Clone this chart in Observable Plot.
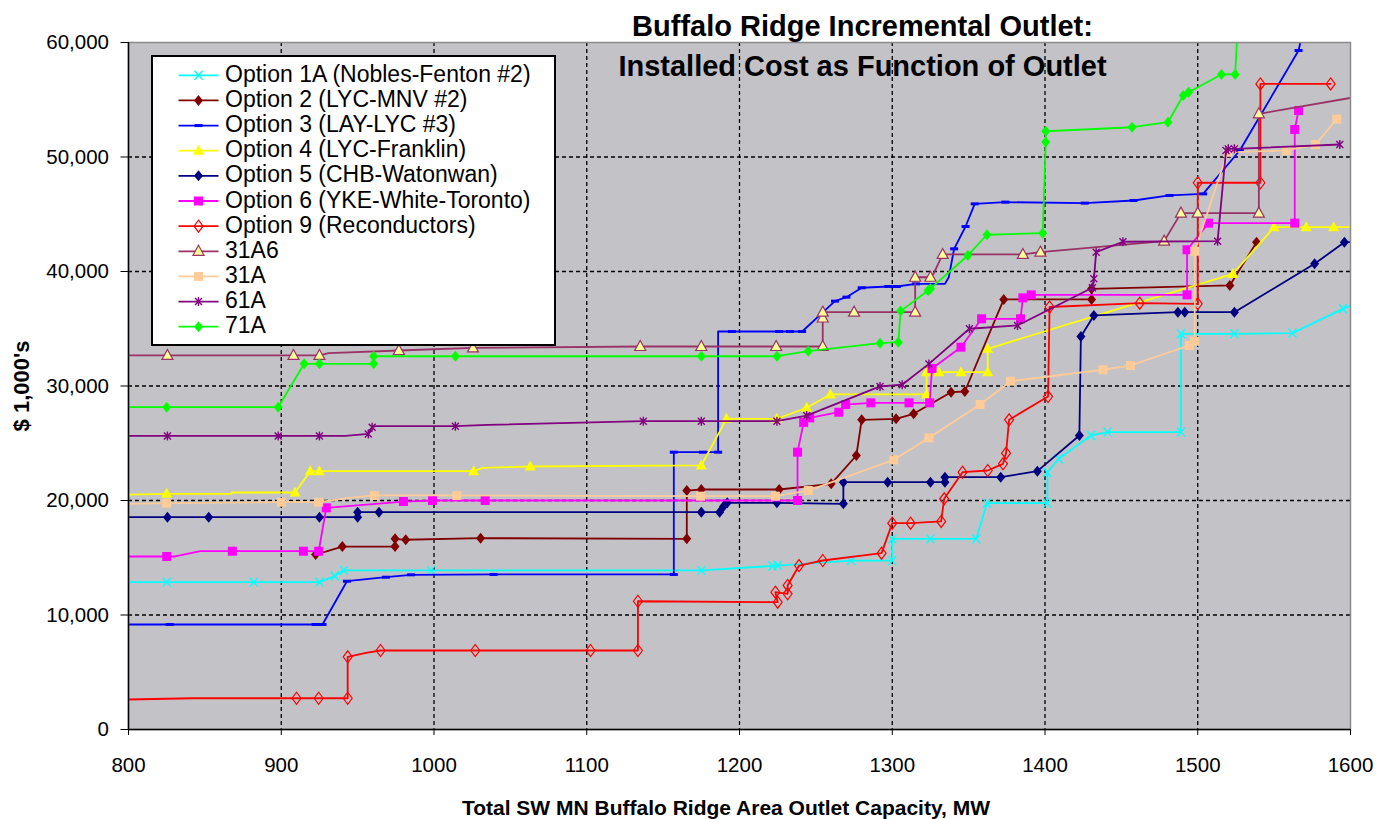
<!DOCTYPE html>
<html><head><meta charset="utf-8">
<script src="https://cdn.jsdelivr.net/npm/d3@7"></script>
<script src="https://cdn.jsdelivr.net/npm/@observablehq/plot@0.6"></script>
<style>
html,body{margin:0;padding:0;background:#fff;}
#chart{width:1388px;height:819px;}
</style></head>
<body><div id="chart"></div>
<script>
// ---------- axis ticks ----------
const xTicks = [800, 900, 1000, 1100, 1200, 1300, 1400, 1500, 1600];
const yTicks = [0, 10000, 20000, 30000, 40000, 50000, 60000];

// ---------- series names ----------
const seriesNames = [
  "Option 1A (Nobles-Fenton #2)",
  "Option 2 (LYC-MNV #2)",
  "Option 3 (LAY-LYC #3)",
  "Option 4 (LYC-Franklin)",
  "Option 5 (CHB-Watonwan)",
  "Option 6 (YKE-White-Toronto)",
  "Option 9 (Reconductors)",
  "31A6",
  "31A",
  "61A",
  "71A"
];

// ---------- series values [MW, $1,000's] (path vertices) ----------
const opt1A = [[800,12870],[825,12870],[882,12870],[925,12870],[935,13400],[941,13900],[998,13900],[1175,13900],[1221.5,14280],[1225,14320],[1273,14750],[1300,14750],[1300,16650],[1325,16650],[1355,16650],[1362,19770],[1401.5,19770],[1401.5,22470],[1409,23640],[1430,25680],[1441,25970],[1489,25970],[1489,34560],[1524,34560],[1562,34620],[1595,36740],[1600,37000]];
const opt1ABends = [[800,12870],[1600,37000]];

const opt2 = [[922.5,15280],[940,15980],[974.5,15980],[974.5,16650],[981.5,16570],[1030.5,16710],[1165.5,16650],[1165.5,20870],[1175,20960],[1226,20960],[1260,21460],[1276.5,23930],[1280,27050],[1302.5,27130],[1314,27570],[1338.5,29460],[1347.5,29520],[1373,37560],[1430.5,37560],[1430.5,38490],[1521,38780],[1538.5,42560]];
const opt2Bends = [];

const opt3 = [[800,9170],[827,9170],[922.5,9170],[927,9170],[943,12950],[968.5,13300],[985,13510],[1039,13540],[1157,13540],[1157,24220],[1176,24220],[1186,24220],[1186,34760],[1195,34760],[1226,34760],[1233,34760],[1241,34760],[1254,36360],[1262.5,37410],[1270,37760],[1280,38580],[1297.5,38690],[1303,38690],[1315.5,38920],[1334.5,38920],[1337,39500],[1340.5,41980],[1348,43930],[1354,45910],[1374,46060],[1426,45970],[1458,46200],[1481.5,46640],[1503.5,46780],[1527.5,50570],[1566,59300],[1568,60500]];
const opt3Bends = [[800,9170],[1186,34760],[1254,36360],[1334.5,38920],[1337,39500],[1568,60500]];

const opt4 = [[800,20520],[825,20580],[867.5,20580],[867.5,20700],[909,20700],[919,22560],[925,22560],[1026,22560],[1032,22850],[1063,22970],[1175,23060],[1191.5,27130],[1224.5,27130],[1244,28100],[1259.5,29260],[1322.5,29260],[1322.5,31210],[1330.5,31210],[1345,31210],[1362.5,31210],[1362.5,33250],[1523,39790],[1550,43870],[1571,43870],[1589,43870],[1600,43870],[1600,44800]];
const opt4Bends = [[800,20520],[867.5,20580],[867.5,20700],[1032,22850],[1600,43870],[1600,44800]];

const opt5 = [[800,18540],[825.5,18540],[852.5,18540],[925,18540],[950,18540],[950,18980],[964,18980],[1175,18980],[1187,18980],[1189.5,19480],[1192,19800],[1224.5,19800],[1268,19710],[1268,21600],[1297,21600],[1325,21600],[1334.5,21600],[1334.5,22040],[1371,22040],[1395,22560],[1422.5,25680],[1423.5,34320],[1432,36160],[1487,36450],[1491.5,36450],[1524,36450],[1576.5,40670],[1596,42560],[1600,42560]];
const opt5Bends = [[800,18540],[1600,42560]];

const opt6 = [[800,15110],[825,15110],[830.5,15110],[847,15570],[868,15570],[914.5,15570],[924.5,15570],[929.5,19360],[980,19910],[999,20000],[1033.5,20000],[1238,20000],[1238,24220],[1242,26820],[1246,27210],[1265,27710],[1269.5,28380],[1286,28530],[1311,28530],[1324.5,28530],[1326,31530],[1345,33390],[1358.5,35870],[1384,35870],[1385.5,37700],[1391,37960],[1493,37960],[1493,41900],[1507,44220],[1563.5,44220],[1563.5,52400],[1566,54060]];
const opt6Bends = [[800,15110],[830.5,15110],[847,15570]];

const opt9 = [[800,2620],[842,2730],[910,2730],[924.5,2730],[943.5,2730],[943.5,6350],[955.5,6700],[965,6900],[1027,6900],[1102.5,6900],[1133.5,6900],[1133.5,11200],[1225,11120],[1223.5,11990],[1231.5,11850],[1231.5,12580],[1239,14320],[1254.5,14760],[1293,15400],[1300,18020],[1312,18020],[1332,18170],[1334,20150],[1346,22470],[1362.5,22620],[1372.5,23200],[1374.5,24130],[1376.5,27050],[1402,29080],[1403,36900],[1462,37230],[1500,37180],[1500,47750],[1541,47750],[1541,56380],[1587,56380]];
const opt9Bends = [[800,2620],[842,2730],[955.5,6700]];

const s31A6 = [[800,32670],[825.5,32670],[908,32670],[925,32670],[931,32870],[977,33100],[1025.5,33330],[1135,33450],[1175,33450],[1224,33450],[1254.5,33450],[1254.5,35940],[1254.5,36450],[1275,36450],[1315,36450],[1315,39500],[1325,39500],[1327,39800],[1333,41490],[1385.5,41490],[1397,41690],[1478,42650],[1489,45100],[1500,45100],[1540,45100],[1540,53770],[1603,55230]];
const s31A6Bends = [[800,32670],[931,32870],[1327,39800],[1603,55230]];

const s31A = [[800,19710],[825,19770],[900,19850],[924.5,19850],[948.5,20290],[961,20440],[1015,20440],[1174.5,20380],[1223.5,20380],[1245,20870],[1301,23550],[1324,25470],[1357.5,28390],[1377.5,30420],[1438,31420],[1456,31790],[1494.5,33540],[1498,33910],[1498,41770],[1519.5,50410],[1558,50570],[1577,51090],[1591,53310]];
const s31ABends = [[800,19710],[948.5,20290]];

const s61A = [[800,25640],[825.5,25640],[898,25640],[925,25640],[942,25640],[957,25810],[959.5,26400],[962,26490],[1014,26490],[1035,26610],[1137,26930],[1175,26930],[1224.5,26930],[1244,27420],[1292,29960],[1306.5,30110],[1324,31930],[1350.5,35000],[1382,35290],[1431,38580],[1432,39360],[1433.5,41690],[1451,42600],[1513,42650],[1518.5,50570],[1520,50710],[1524,50710],[1593,51090]];
const s61ABends = [[800,25640],[942,25640],[962,26490],[1035,26610]];

const s71A = [[800,28150],[825,28150],[898,28150],[915,31940],[925,31940],[960.5,31940],[960.5,32600],[1014,32600],[1175,32600],[1224.5,32600],[1245,33040],[1292,33740],[1304,33830],[1305.5,36540],[1323.5,38340],[1325,38500],[1349.5,41400],[1362,43210],[1398.5,43350],[1400.5,51300],[1400.5,52250],[1457,52600],[1480.5,53040],[1490.5,55370],[1494,55660],[1515.5,57210],[1524.5,57210],[1526,61000]];
const s71ABends = [[800,28150],[1526,61000]];

// ---------- symbols ----------
const sym = {
  diamond: {draw(c){c.moveTo(0,-5.5);c.lineTo(4.5,0);c.lineTo(0,5.5);c.lineTo(-4.5,0);c.closePath();}},
  square: {draw(c){c.moveTo(-4.5,-4.5);c.lineTo(4.5,-4.5);c.lineTo(4.5,4.5);c.lineTo(-4.5,4.5);c.closePath();}},
  triangle: {draw(c){c.moveTo(0,-6);c.lineTo(5.5,4);c.lineTo(-5.5,4);c.closePath();}},
  dash: {draw(c){c.moveTo(-4,-1.5);c.lineTo(4,-1.5);c.lineTo(4,1.5);c.lineTo(-4,1.5);c.closePath();}},
  times: {draw(c){c.moveTo(-4,-4.5);c.lineTo(4,4.5);c.moveTo(4,-4.5);c.lineTo(-4,4.5);}},
  star: {draw(c){c.moveTo(-3.5,-3.5);c.lineTo(3.5,3.5);c.moveTo(3.5,-3.5);c.lineTo(-3.5,3.5);c.moveTo(0,-4.5);c.lineTo(0,4.5);}},
  odiamond: {draw(c){c.moveTo(0,-6);c.lineTo(4.5,0);c.lineTo(0,6);c.lineTo(-4.5,0);c.closePath();}}
};

const styles = [
  {line:"#00FFFF", symbol:sym.times,    fill:"none",    stroke:"#00FFFF", sw:1.4},
  {line:"#800000", symbol:sym.diamond,  fill:"#800000", stroke:"none",    sw:1},
  {line:"#0000FF", symbol:sym.dash,     fill:"#0000FF", stroke:"none",    sw:1},
  {line:"#FFFF00", symbol:sym.triangle, fill:"#FFFF00", stroke:"none",    sw:1},
  {line:"#000080", symbol:sym.diamond,  fill:"#000080", stroke:"none",    sw:1},
  {line:"#FF00FF", symbol:sym.square,   fill:"#FF00FF", stroke:"none",    sw:1},
  {line:"#FF0000", symbol:sym.odiamond, fill:"none",    stroke:"#FF0000", sw:1.2},
  {line:"#993366", symbol:sym.triangle, fill:"#FFFF99", stroke:"#993366", sw:1.2},
  {line:"#FFCC99", symbol:sym.square,   fill:"#FFCC99", stroke:"none",    sw:1},
  {line:"#800080", symbol:sym.star,     fill:"none",    stroke:"#800080", sw:1.4},
  {line:"#00FF00", symbol:sym.diamond,  fill:"#00FF00", stroke:"none",    sw:1}
];

const paths = [opt1A, opt2, opt3, opt4, opt5, opt6, opt9, s31A6, s31A, s61A, s71A];
const bends = [opt1ABends, opt2Bends, opt3Bends, opt4Bends, opt5Bends, opt6Bends, opt9Bends, s31A6Bends, s31ABends, s61ABends, s71ABends];

const series = seriesNames.map((name, i) => {
  const b = bends[i];
  return {
    name,
    path: paths[i],
    markers: paths[i].filter(p => !b.some(q => q[0] === p[0] && q[1] === p[1])),
    style: styles[i]
  };
});

const marks = [
  Plot.frame({fill: "#C3C2C7"}),
  Plot.ruleY(yTicks.filter(v => v > 0 && v < 60000), {y: d => d, stroke: "#000", strokeWidth: 1.3, strokeDasharray: "4,3"}),
  Plot.ruleX(xTicks.filter(v => v > 800 && v < 1600), {x: d => d, stroke: "#000", strokeWidth: 1.3, strokeDasharray: "4,3"})
];
for (const s of series) {
  marks.push(Plot.line(s.path, {x: d => d[0], y: d => d[1], stroke: s.style.line, strokeWidth: 1.8, clip: true}));
  marks.push(Plot.dot(s.markers, {x: d => d[0], y: d => d[1], symbol: s.style.symbol, r: 5,
    fill: s.style.fill, stroke: s.style.stroke, strokeWidth: s.style.sw, clip: true}));
}
marks.push(
  Plot.frame({stroke: "#8a8a8a", strokeWidth: 1.5}),
  Plot.ruleX([800], {stroke: "#000", strokeWidth: 1.5}),
  Plot.ruleY([0], {stroke: "#000", strokeWidth: 1.5}),
  Plot.axisY({ticks: yTicks, tickSize: 7.5, tickPadding: 12, tickFormat: d3.format(","), fontSize: 20.5, label: null, stroke: "#000"}),
  Plot.axisX({ticks: xTicks, tickSize: 6, tickPadding: 22, tickFormat: d => String(d), fontSize: 20.5, label: null, stroke: "#000"})
);

const svg = Plot.plot({
  width: 1388, height: 819,
  marginLeft: 128, marginRight: 38, marginTop: 42, marginBottom: 90,
  x: {domain: [800, 1600]},
  y: {domain: [0, 60000]},
  style: {fontFamily: "'Liberation Sans', Arial, sans-serif", background: "#fff", color: "#000", overflow: "visible"},
  marks
});

const g = d3.select(svg);
const font = "'Liberation Sans', Arial, sans-serif";

// titles
g.append("text").attr("x", 862.5).attr("y", 35.7).attr("text-anchor", "middle")
  .attr("font-family", font).attr("font-weight", "bold").attr("font-size", 29).attr("fill", "#000")
  .text("Buffalo Ridge Incremental Outlet:");
g.append("text").attr("x", 862.5).attr("y", 76).attr("text-anchor", "middle")
  .attr("font-family", font).attr("font-weight", "bold").attr("font-size", 29).attr("fill", "#000")
  .text("Installed Cost as Function of Outlet");
g.append("text").attr("x", 726).attr("y", 815).attr("text-anchor", "middle")
  .attr("font-family", font).attr("font-weight", "bold").attr("font-size", 21).attr("fill", "#000")
  .text("Total SW MN Buffalo Ridge Area Outlet Capacity, MW");
g.append("text").attr("transform", "translate(28.5,386) rotate(-90)").attr("text-anchor", "middle")
  .attr("font-family", font).attr("font-weight", "bold").attr("font-size", 22).attr("fill", "#000")
  .text("$ 1,000's");

// legend
const lg = g.append("g");
lg.append("rect").attr("x", 152).attr("y", 56).attr("width", 403).attr("height", 289)
  .attr("fill", "#fff").attr("stroke", "#000").attr("stroke-width", 2);
series.forEach((s, i) => {
  const cy = 75.3 + i * 25.14;
  lg.append("line").attr("x1", 178.5).attr("x2", 218.5).attr("y1", cy).attr("y2", cy)
    .attr("stroke", s.style.line).attr("stroke-width", 1.8);
  lg.append("path").attr("transform", `translate(198.5,${cy})`)
    .attr("d", d3.symbol(s.style.symbol, 64)())
    .attr("fill", s.style.fill).attr("stroke", s.style.stroke).attr("stroke-width", s.style.sw);
  lg.append("text").attr("x", 225).attr("y", cy + 6.6).attr("text-anchor", "start")
    .attr("font-family", font).attr("font-size", 23).attr("fill", "#000").text(s.name);
});

document.getElementById("chart").appendChild(svg);
</script>
</body></html>
